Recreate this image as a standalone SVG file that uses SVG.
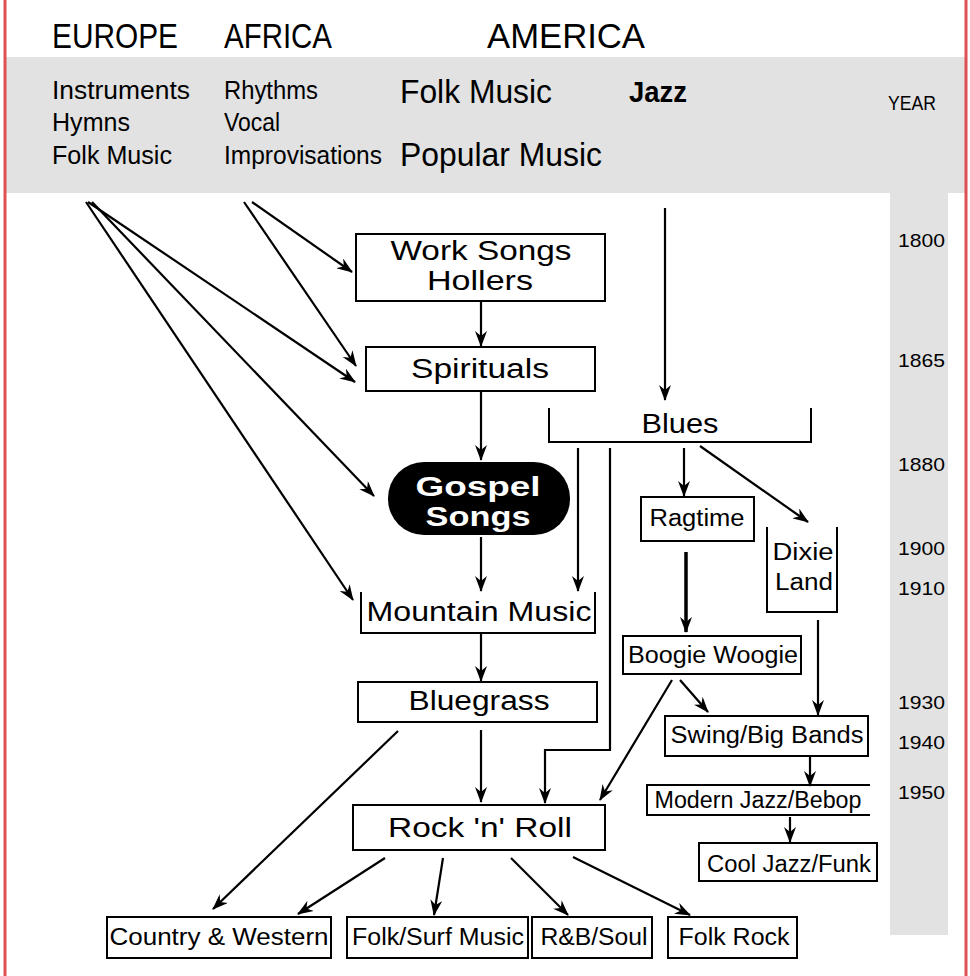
<svg xmlns="http://www.w3.org/2000/svg" width="970" height="976" viewBox="0 0 970 976">
<defs>
<marker id="ah" markerWidth="16" markerHeight="12" refX="15" refY="6" orient="auto" markerUnits="userSpaceOnUse">
<path d="M0,0 L16,6 L0,12 L5,6 z" fill="#000"/>
</marker>
<style>
text{font-family:"Liberation Sans",Arial,sans-serif;fill:#000}
.hd{font-size:35px}
.sm{font-size:26px}
.md{font-size:33px}
.yr{font-size:19px}
.n{font-size:27px;text-anchor:middle}
.s{font-size:23px;text-anchor:middle}
.box{fill:#fff;stroke:#000;stroke-width:2}
.open{fill:none;stroke:#000;stroke-width:2}
.a{fill:none;stroke:#000;stroke-width:2.2;marker-end:url(#ah)}
</style>
</defs>
<rect x="0" y="0" width="970" height="976" fill="#fff"/>
<rect x="6" y="57" width="959" height="136" fill="#e2e2e2"/>
<rect x="890" y="193" width="58" height="742" fill="#e2e2e2"/>
<line x1="5" y1="0" x2="5" y2="976" stroke="#e05050" stroke-width="3"/>
<line x1="966" y1="0" x2="966" y2="976" stroke="#e05050" stroke-width="3"/>

<g id="header">
<text class="hd" x="52" y="48" textLength="126" lengthAdjust="spacingAndGlyphs">EUROPE</text>
<text class="hd" x="224" y="48" textLength="108" lengthAdjust="spacingAndGlyphs">AFRICA</text>
<text class="hd" x="487" y="48" textLength="158" lengthAdjust="spacingAndGlyphs">AMERICA</text>
<text class="sm" x="52" y="99" textLength="138" lengthAdjust="spacingAndGlyphs">Instruments</text>
<text class="sm" x="52" y="131" textLength="78" lengthAdjust="spacingAndGlyphs">Hymns</text>
<text class="sm" x="52" y="164" textLength="120" lengthAdjust="spacingAndGlyphs">Folk Music</text>
<text class="sm" x="224" y="99" textLength="94" lengthAdjust="spacingAndGlyphs">Rhythms</text>
<text class="sm" x="224" y="131" textLength="56" lengthAdjust="spacingAndGlyphs">Vocal</text>
<text class="sm" x="224" y="164" textLength="158" lengthAdjust="spacingAndGlyphs">Improvisations</text>
<text class="md" x="400" y="103" textLength="152" lengthAdjust="spacingAndGlyphs">Folk Music</text>
<text class="md" x="400" y="166" textLength="202" lengthAdjust="spacingAndGlyphs">Popular Music</text>
<text x="629" y="102" font-size="30" font-weight="bold" textLength="58" lengthAdjust="spacingAndGlyphs">Jazz</text>
<text x="888" y="110" font-size="21" textLength="48" lengthAdjust="spacingAndGlyphs">YEAR</text>
</g>

<g id="years">
<text class="yr" x="898" y="247" textLength="47" lengthAdjust="spacingAndGlyphs">1800</text>
<text class="yr" x="898" y="367" textLength="47" lengthAdjust="spacingAndGlyphs">1865</text>
<text class="yr" x="898" y="471" textLength="47" lengthAdjust="spacingAndGlyphs">1880</text>
<text class="yr" x="898" y="555" textLength="47" lengthAdjust="spacingAndGlyphs">1900</text>
<text class="yr" x="898" y="595" textLength="47" lengthAdjust="spacingAndGlyphs">1910</text>
<text class="yr" x="898" y="709" textLength="47" lengthAdjust="spacingAndGlyphs">1930</text>
<text class="yr" x="898" y="749" textLength="47" lengthAdjust="spacingAndGlyphs">1940</text>
<text class="yr" x="898" y="799" textLength="47" lengthAdjust="spacingAndGlyphs">1950</text>
</g>

<g id="connectors">
<line class="a" x1="88" y1="202" x2="355" y2="382"/>
<line class="a" x1="92" y1="202" x2="374" y2="496"/>
<line class="a" x1="86" y1="202" x2="353" y2="600"/>
<line class="a" x1="252" y1="202" x2="352" y2="272"/>
<line class="a" x1="244" y1="202" x2="356" y2="366"/>
<line class="a" x1="665" y1="208" x2="665" y2="400"/>
<line class="a" x1="481" y1="302" x2="481" y2="346"/>
<line class="a" x1="481" y1="392" x2="481" y2="460"/>
<line class="a" x1="481" y1="537" x2="481" y2="591"/>
<line class="a" x1="578" y1="448" x2="578" y2="591"/>
<polyline class="a" points="610,448 610,750 545,750 545,803"/>
<line class="a" x1="481" y1="634" x2="481" y2="681"/>
<line class="a" x1="481" y1="730" x2="481" y2="802"/>
<line class="a" x1="684" y1="448" x2="684" y2="496"/>
<line class="a" x1="700" y1="446" x2="808" y2="522"/>
<line x1="686" y1="552" x2="686" y2="632" stroke="#000" stroke-width="3.5" marker-end="url(#ah)"/>
<line class="a" x1="818" y1="620" x2="818" y2="715"/>
<line class="a" x1="680" y1="680" x2="708" y2="712"/>
<line class="a" x1="672" y1="680" x2="600" y2="800"/>
<line class="a" x1="810" y1="757" x2="810" y2="786"/>
<line class="a" x1="790" y1="817" x2="790" y2="842"/>
<line class="a" x1="398" y1="731" x2="213" y2="909"/>
<line class="a" x1="385" y1="858" x2="298" y2="914"/>
<line class="a" x1="443" y1="858" x2="434" y2="915"/>
<line class="a" x1="511" y1="858" x2="568" y2="915"/>
<line class="a" x1="573" y1="857" x2="690" y2="915"/>
</g>

<g id="work-songs">
<rect class="box" x="356" y="234" width="249" height="67"/>
<text class="n" x="481" y="260" textLength="181" lengthAdjust="spacingAndGlyphs">Work Songs</text>
<text class="n" x="480" y="290" textLength="106" lengthAdjust="spacingAndGlyphs">Hollers</text>
</g>
<g id="spirituals">
<rect class="box" x="366" y="347" width="229" height="44"/>
<text class="n" x="480" y="378" textLength="138" lengthAdjust="spacingAndGlyphs">Spirituals</text>
</g>
<g id="blues">
<polyline class="open" points="549,408 549,442 811,442 811,408"/>
<text class="n" x="680" y="433" textLength="77" lengthAdjust="spacingAndGlyphs">Blues</text>
</g>
<g id="gospel">
<rect x="388" y="462" width="182" height="73" rx="36" ry="36" fill="#000"/>
<text class="n" x="478" y="496" font-weight="bold" style="fill:#fff" textLength="125" lengthAdjust="spacingAndGlyphs">Gospel</text>
<text class="n" x="478" y="526" font-weight="bold" style="fill:#fff" textLength="105" lengthAdjust="spacingAndGlyphs">Songs</text>
</g>
<g id="ragtime">
<rect class="box" x="641" y="497" width="113" height="44"/>
<text class="s" x="697" y="526" textLength="95" lengthAdjust="spacingAndGlyphs">Ragtime</text>
</g>
<g id="dixieland">
<polyline class="open" points="767,527 767,612 837,612 837,527"/>
<text class="s" x="803" y="560" textLength="61" lengthAdjust="spacingAndGlyphs">Dixie</text>
<text class="s" x="804" y="590" textLength="58" lengthAdjust="spacingAndGlyphs">Land</text>
</g>
<g id="mountain-music">
<polyline class="open" points="361,592 361,633 595,633 595,592"/>
<text class="n" x="479" y="621" textLength="225" lengthAdjust="spacingAndGlyphs">Mountain Music</text>
</g>
<g id="boogie-woogie">
<rect class="box" x="623" y="636" width="178" height="38"/>
<text class="s" x="713" y="663" textLength="170" lengthAdjust="spacingAndGlyphs">Boogie Woogie</text>
</g>
<g id="bluegrass">
<rect class="box" x="358" y="682" width="239" height="40"/>
<text class="n" x="479" y="710" textLength="141" lengthAdjust="spacingAndGlyphs">Bluegrass</text>
</g>
<g id="swing">
<rect class="box" x="665" y="716" width="203" height="40"/>
<text class="s" x="767" y="743" textLength="193" lengthAdjust="spacingAndGlyphs">Swing/Big Bands</text>
</g>
<g id="modern-jazz">
<polyline class="open" points="870,785 647,785 647,815 870,815"/>
<text class="s" x="758" y="808" textLength="207" lengthAdjust="spacingAndGlyphs">Modern Jazz/Bebop</text>
</g>
<g id="cool-jazz">
<rect class="box" x="699" y="843" width="178" height="38"/>
<text class="s" x="789" y="872" textLength="164" lengthAdjust="spacingAndGlyphs">Cool Jazz/Funk</text>
</g>
<g id="rock-n-roll">
<rect class="box" x="353" y="805" width="252" height="45"/>
<text class="n" x="480" y="837" textLength="184" lengthAdjust="spacingAndGlyphs">Rock 'n' Roll</text>
</g>
<g id="country-western">
<rect class="box" x="107" y="917" width="224" height="41"/>
<text class="s" x="219" y="945" textLength="219" lengthAdjust="spacingAndGlyphs">Country &amp; Western</text>
</g>
<g id="folk-surf">
<rect class="box" x="347" y="917" width="181" height="41"/>
<text class="s" x="438" y="945" textLength="172" lengthAdjust="spacingAndGlyphs">Folk/Surf Music</text>
</g>
<g id="rb-soul">
<rect class="box" x="532" y="917" width="120" height="41"/>
<text class="s" x="594" y="945" textLength="107" lengthAdjust="spacingAndGlyphs">R&amp;B/Soul</text>
</g>
<g id="folk-rock">
<rect class="box" x="668" y="917" width="129" height="41"/>
<text class="s" x="734" y="945" textLength="111" lengthAdjust="spacingAndGlyphs">Folk Rock</text>
</g>
</svg>
